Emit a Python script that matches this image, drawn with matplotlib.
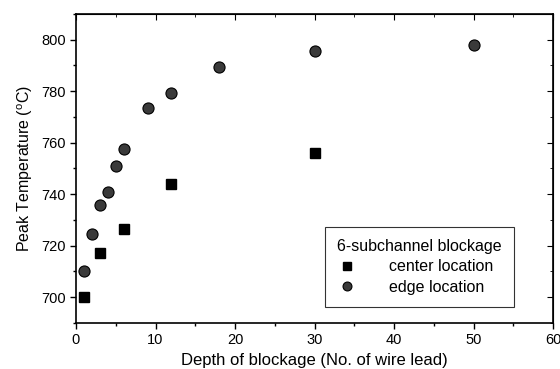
import matplotlib.pyplot as plt
from matplotlib.ticker import MultipleLocator

plt.rcParams['font.family'] = ['Liberation Sans', 'DejaVu Sans']

# ======================================================
# DATA
# ======================================================
center_depth = [1, 3, 6, 12, 30]
center_temp = [700, 717, 726.5, 744, 756]

edge_depth = [1, 2, 3, 4, 5, 6, 9, 12, 18, 30, 50]
edge_temp = [710, 724.5, 736, 741, 751, 757.5, 773.5, 779.5, 789.5, 795.5, 798]

# ======================================================
# PLOT
# ======================================================
fig = plt.figure(figsize=(5.6, 3.69), dpi=100)
ax = fig.add_axes([76 / 560, 1 - 323 / 369, 477 / 560, 309 / 369])

ax.plot(center_depth, center_temp, linestyle='none', marker='s',
        markersize=6.5, color='black', label='center location')
ax.plot(edge_depth, edge_temp, linestyle='none', marker='o',
        markersize=8, markerfacecolor='#3a3a3a', markeredgecolor='black',
        markeredgewidth=0.8, label='edge location')

ax.set_xlim(0, 60)
ax.set_ylim(690, 810)
ax.xaxis.set_major_locator(MultipleLocator(10))
ax.xaxis.set_minor_locator(MultipleLocator(5))
ax.yaxis.set_major_locator(MultipleLocator(20))
ax.yaxis.set_minor_locator(MultipleLocator(10))

ax.tick_params(which='both', direction='out', top=False, right=False,
               labelsize=10.5, width=1)
ax.tick_params(which='major', length=4)
ax.tick_params(which='minor', length=2.5)

# Mirrored inward ticks on top and right
sec_x = ax.secondary_xaxis('top')
sec_x.xaxis.set_major_locator(MultipleLocator(10))
sec_x.xaxis.set_minor_locator(MultipleLocator(5))
sec_x.tick_params(which='both', direction='in', labeltop=False)
sec_x.tick_params(which='major', length=4)
sec_x.tick_params(which='minor', length=2.5)
sec_y = ax.secondary_yaxis('right')
sec_y.yaxis.set_major_locator(MultipleLocator(20))
sec_y.yaxis.set_minor_locator(MultipleLocator(10))
sec_y.tick_params(which='both', direction='in', labelright=False)
sec_y.tick_params(which='major', length=4)
sec_y.tick_params(which='minor', length=2.5)

for spine in ax.spines.values():
    spine.set_linewidth(1.2)

ax.set_xlabel('Depth of blockage (No. of wire lead)', fontsize=12)
ax.set_ylabel(r'Peak Temperature ($\mathregular{^{o}}$C)', fontsize=11.5)

leg = ax.legend(title='6-subchannel blockage', loc='lower right',
                bbox_to_anchor=(514 / 560, 1 - 307 / 369),
                bbox_transform=fig.transFigure, borderaxespad=0,
                fontsize=11.5, title_fontsize=11.5, frameon=True, fancybox=False,
                edgecolor='black', borderpad=0.75, handletextpad=2.0,
                labelspacing=0.35, handlelength=1.2, markerscale=0.8)
leg.get_frame().set_linewidth(0.8)
leg._legend_box.align = 'left'

plt.savefig('out.png', dpi=100)
